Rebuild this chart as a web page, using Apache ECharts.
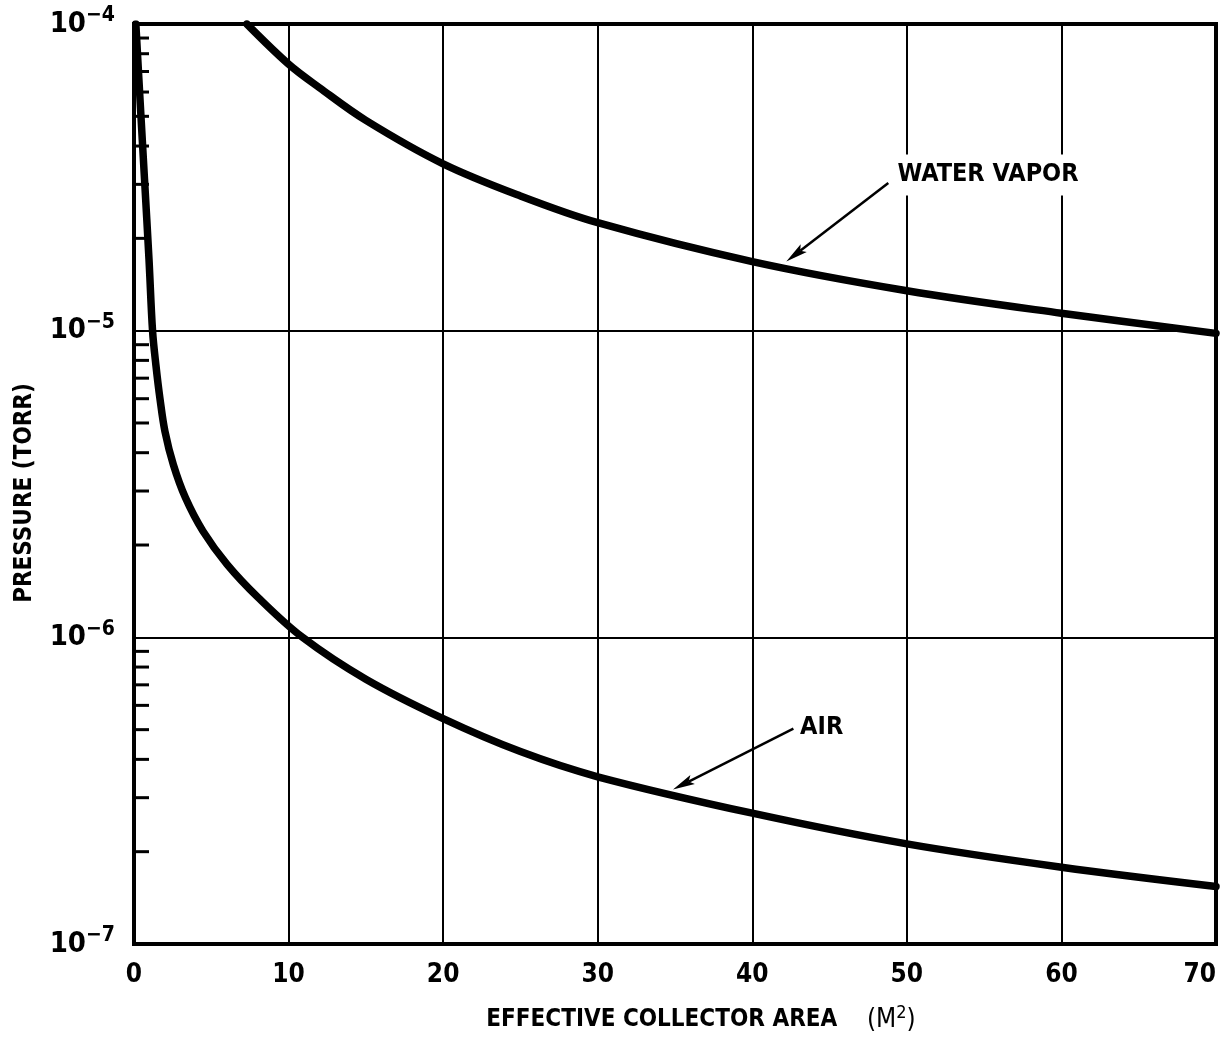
<!DOCTYPE html>
<html>
<head>
<meta charset="utf-8">
<script src="https://cdn.jsdelivr.net/npm/echarts@6.0.0/dist/echarts.min.js"></script>
<style>
  html, body { margin: 0; padding: 0; background: #fff; overflow: hidden; }
  #chart { width: 1229px; height: 1038px; }
</style>
</head>
<body>
<div id="chart"></div>
<script>
// values
var xTicks = [0, 10, 20, 30, 40, 50, 60, 70];

var airArea = [0.12, 0.39, 0.68, 0.97, 1.2, 1.42, 1.68, 2.0, 2.55, 3.33, 4.46, 6.02, 8.02, 10.9, 15, 20, 25, 30, 40, 50, 60, 70];
var airPressure = [1e-4, 5.66e-5, 3.12e-5, 1.71e-5, 1.0e-5, 7.7e-6, 6.0e-6, 4.7e-6, 3.65e-6, 2.85e-6, 2.22e-6, 1.73e-6, 1.35e-6, 1.0e-6, 7.3e-7, 5.43e-7, 4.24e-7, 3.51e-7, 2.67e-7, 2.12e-7, 1.78e-7, 1.54e-7];

var waterArea = [7.3, 10, 12, 15, 20, 25, 30, 40, 50, 60, 70];
var waterPressure = [1e-4, 7.4e-5, 6.2e-5, 4.85e-5, 3.5e-5, 2.75e-5, 2.25e-5, 1.68e-5, 1.35e-5, 1.14e-5, 9.8e-6];

// minor ticks on the pressure axis (2..9 of each decade)
var minorTicks = [];
[1e-7, 1e-6, 1e-5].forEach(function (d) {
  for (var k = 2; k <= 9; k++) minorTicks.push([0, k * d]);
});

// annotations, in data units
var labelNames = ['WATER VAPOR', 'AIR'];
var labelPos = [[49.2, 3.22e-5], [42.9, 5.1e-7]];
var arrows = [
  [48.8, 3.03e-5, 42.2, 1.68e-5],
  [42.66, 5.04e-7, 34.87, 3.19e-7]
];

var FONT = '"Liberation Sans Narrow", "DejaVu Sans Condensed", "Liberation Sans", sans-serif';

var chart = echarts.init(document.getElementById('chart'));

function pair(xs, ys) {
  return xs.map(function (x, i) { return [x, ys[i]]; });
}

chart.setOption({
  animation: false,
  backgroundColor: '#fff',
  grid: {
    left: 134, right: 13, top: 24, bottom: 94,
    outerBoundsMode: 'none',
    containLabel: false,
    show: true, borderColor: '#000', borderWidth: 4, backgroundColor: 'transparent'
  },
  xAxis: {
    type: 'value',
    min: 0, max: 70, interval: 10,
    axisLine: { show: true, lineStyle: { color: '#000', width: 4 } },
    axisTick: { show: false },
    splitLine: { show: true, lineStyle: { color: '#000', width: 2 } },
    axisLabel: {
      margin: 18, color: '#000', fontFamily: FONT, fontWeight: 'bold', fontSize: 26,
      alignMaxLabel: 'right',
      customValues: xTicks
    },
    name: '{a|EFFECTIVE COLLECTOR AREA}{b|    (M}{c|2}{b|)}',
    nameLocation: 'middle',
    nameGap: 60,
    nameTextStyle: {
      padding: [0, 0, 0, 52],
      rich: {
        a: { fontFamily: FONT, fontWeight: 'bold', fontSize: 24, color: '#000' },
        b: { fontFamily: FONT, fontSize: 26, color: '#000' },
        c: { fontFamily: FONT, fontSize: 18, color: '#000', padding: [0, 0, 14, 0] }
      }
    }
  },
  yAxis: {
    type: 'log',
    logBase: 10,
    min: 1e-7, max: 1e-4,
    axisLine: { show: true, lineStyle: { color: '#000', width: 4 } },
    axisTick: { show: false },
    splitLine: { show: true, lineStyle: { color: '#000', width: 2 } },
    axisLabel: {
      margin: 19,
      formatter: function (v) {
        var e = Math.round(Math.log10(v));
        return '{b|10}{s|\u2212' + Math.abs(e) + '}';
      },
      rich: {
        b: { fontFamily: FONT, fontWeight: 'bold', fontSize: 29, color: '#000' },
        s: { fontFamily: FONT, fontWeight: 'bold', fontSize: 21, color: '#000', padding: [0, 0, 16, 0] }
      }
    },
    name: 'PRESSURE (TORR)',
    nameLocation: 'middle',
    nameRotate: 90,
    nameGap: 97,
    nameTextStyle: { fontFamily: FONT, fontWeight: 'bold', fontSize: 24, color: '#000', padding: [0, 18, 0, 0] }
  },
  series: [
    {
      name: 'minor ticks',
      type: 'custom',
      silent: true,
      z: 4,
      data: minorTicks,
      encode: { x: 0, y: 1 },
      renderItem: function (params, api) {
        var p = api.coord([api.value(0), api.value(1)]);
        return {
          type: 'line',
          shape: { x1: p[0], y1: p[1], x2: p[0] + 15, y2: p[1] },
          style: { stroke: '#000', lineWidth: 3 }
        };
      }
    },
    {
      name: 'WATER VAPOR',
      type: 'line',
      smooth: 0.35,
      showSymbol: false,
      symbol: 'none',
      z: 5,
      data: pair(waterArea, waterPressure),
      lineStyle: { color: '#000', width: 7.5, cap: 'round' }
    },
    {
      name: 'AIR',
      type: 'line',
      smooth: 0.35,
      showSymbol: false,
      symbol: 'none',
      z: 5,
      data: pair(airArea, airPressure),
      lineStyle: { color: '#000', width: 7.5, cap: 'round' }
    },
    {
      name: 'arrows',
      type: 'custom',
      silent: true,
      z: 6,
      data: arrows,
      encode: { x: [0, 2], y: [1, 3] },
      renderItem: function (params, api) {
        var a = api.coord([api.value(0), api.value(1)]);
        var b = api.coord([api.value(2), api.value(3)]);
        var dx = b[0] - a[0], dy = b[1] - a[1];
        var len = Math.sqrt(dx * dx + dy * dy);
        var ux = dx / len, uy = dy / len;
        var nx = -uy, ny = ux;
        var L = 22, W = 5;
        var bx = b[0] - ux * L, by = b[1] - uy * L;
        var mx = b[0] - ux * L * 0.8, my = b[1] - uy * L * 0.8;
        return {
          type: 'group',
          children: [
            {
              type: 'line',
              shape: { x1: a[0], y1: a[1], x2: mx, y2: my },
              style: { stroke: '#000', lineWidth: 2.5 }
            },
            {
              type: 'polygon',
              shape: { points: [[b[0], b[1]], [bx + nx * W, by + ny * W], [mx, my], [bx - nx * W, by - ny * W]] },
              style: { fill: '#000' }
            }
          ]
        };
      }
    },
    {
      name: 'labels',
      type: 'scatter',
      silent: true,
      symbolSize: 0,
      z: 7,
      itemStyle: { opacity: 1, color: '#000' },
      data: labelPos.map(function (p, i) { return { value: p, name: labelNames[i] }; }),
      label: {
        show: true,
        position: 'right',
        distance: 0,
        formatter: '{b}',
        fontFamily: FONT,
        fontWeight: 'bold',
        fontSize: 25,
        color: '#000',
        opacity: 1,
        backgroundColor: '#fff',
        padding: [8, 3, 8, 3]
      }
    }
  ]
});
</script>
</body>
</html>
